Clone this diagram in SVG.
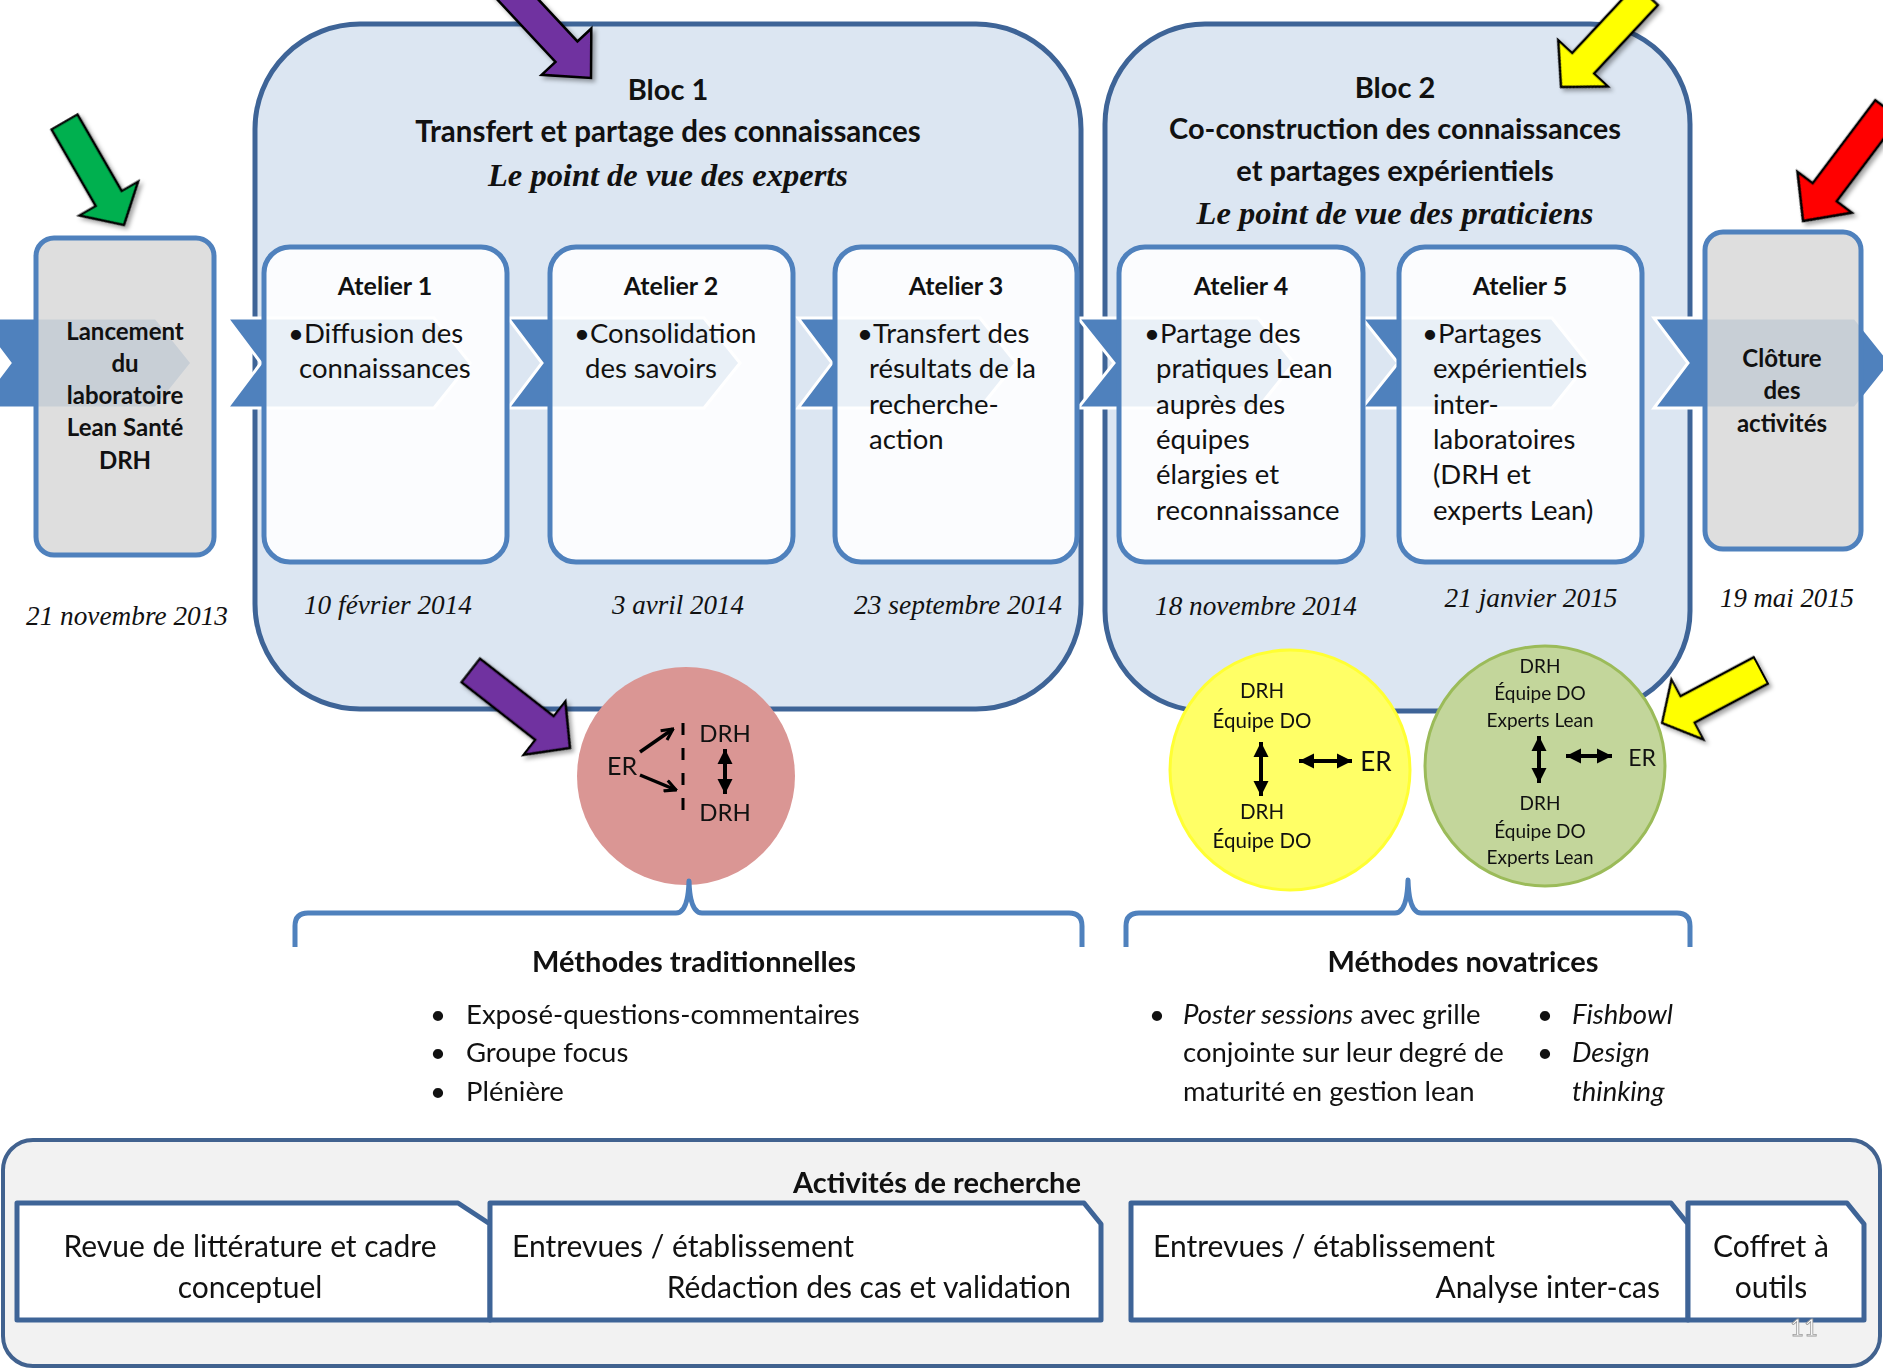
<svg xmlns="http://www.w3.org/2000/svg" width="1883" height="1368" viewBox="0 0 1883 1368">
<defs>
<style>
.s{font-family:Lato,'Open Sans','Liberation Sans',sans-serif;fill:#111}
.b{font-weight:bold}
.c{text-anchor:middle}
.r{text-anchor:end}
.serif{font-family:'Liberation Serif','Times New Roman',serif;font-style:italic;fill:#111}
.ttl{font-weight:bold}
.bloc{fill:#DCE6F2;stroke:#3E6497;stroke-width:5}
.chev{fill:#4F81BD;stroke:#fff;stroke-width:3}
.box{fill:#fff;fill-opacity:0.88;stroke:#4F81BD;stroke-width:5}
.gbox{fill:#D9D9D9;fill-opacity:0.88;stroke:#4F81BD;stroke-width:5}
.brace{fill:none;stroke:#4F81BD;stroke-width:5;stroke-linejoin:round}
.act{fill:#fff;stroke:#3E6497;stroke-width:5;stroke-linejoin:round}
.arr{stroke:#000;stroke-width:2.5;stroke-linejoin:miter}
.dbl{stroke:#000;stroke-width:4;fill:none;marker-start:url(#ah);marker-end:url(#ah)}
.one{stroke:#000;stroke-width:3.5;fill:none;marker-end:url(#av)}
</style>
<marker id="ah" viewBox="0 0 10 10" refX="10" refY="5" markerWidth="3.8" markerHeight="3.8" orient="auto-start-reverse">
<path d="M0,0 L10,5 L0,10 z" fill="#000"/>
</marker>
<marker id="av" viewBox="0 0 10 10" refX="9" refY="5" markerWidth="4" markerHeight="4" orient="auto">
<path d="M1,1 L9,5 L1,9" fill="none" stroke="#000" stroke-width="2.2"/>
</marker>
<filter id="sh" x="-20%" y="-20%" width="140%" height="140%">
<feDropShadow dx="3" dy="3" stdDeviation="2" flood-color="#000" flood-opacity="0.35"/>
</filter>
<polygon id="blk" points="0,0 -36,-34 -36,-15 -140,-15 -140,15 -36,15 -36,34"/>
</defs>

<rect width="1883" height="1368" fill="#fff"/>

<!-- Blocs -->
<g id="bloc1">
<rect class="bloc" x="255" y="24" width="826" height="685" rx="105" ry="105"/>
<text class="s b c" x="668" y="100" font-size="29">Bloc 1</text>
<text class="s b c" x="668" y="142" font-size="29.5">Transfert et partage des connaissances</text>
<text class="serif ttl c" x="668" y="186" font-size="32" textLength="360" lengthAdjust="spacingAndGlyphs">Le point de vue des experts</text>
</g>
<g id="bloc2">
<rect class="bloc" x="1105" y="24" width="585" height="687" rx="100" ry="100"/>
<text class="s b c" x="1395" y="98" font-size="29">Bloc 2</text>
<text class="s b c" x="1395" y="139" font-size="29">Co-construction des connaissances</text>
<text class="s b c" x="1395" y="181" font-size="29">et partages expérientiels</text>
<text class="serif ttl c" x="1395" y="224" font-size="32" textLength="397" lengthAdjust="spacingAndGlyphs">Le point de vue des praticiens</text>
</g>

<!-- Process band (connectors) -->
<g id="connectors">
<polygon class="chev" points="-24,318 156,318 192,363 156,408 -24,408 10,363"/>
<polygon class="chev" points="227,318 434,318 470,363 434,408 227,408 261,363"/>
<polygon class="chev" points="508,318 704,318 740,363 704,408 508,408 542,363"/>
<polygon class="chev" points="798,318 980,318 1016,363 980,408 798,408 832,363"/>
<polygon class="chev" points="1078,318 1258,318 1294,363 1258,408 1078,408 1114,363"/>
<polygon class="chev" points="1362,318 1552,318 1588,363 1552,408 1362,408 1398,363"/>
<polygon class="chev" points="1654,318 1855,318 1891,363 1855,408 1654,408 1688,363"/>
</g>

<!-- Lancement -->
<g id="lancement">
<rect class="gbox" x="36" y="238" width="178" height="317" rx="18"/>
<text class="s b c" font-size="24"><tspan x="125" y="340">Lancement</tspan><tspan x="125" y="372">du</tspan><tspan x="125" y="404">laboratoire</tspan><tspan x="125" y="436">Lean Santé</tspan><tspan x="125" y="469">DRH</tspan></text>
<text class="serif c" x="127" y="625" font-size="27" textLength="202" lengthAdjust="spacingAndGlyphs">21 novembre 2013</text>
</g>

<g id="atelier1">
<rect class="box" x="264" y="247" width="243" height="315" rx="26"/>
<text class="s b c" x="385" y="295" font-size="25">Atelier 1</text>
<text class="s" font-size="27.5"><tspan x="288" y="343">•Diffusion des</tspan><tspan x="299" y="378">connaissances</tspan></text>
<text class="serif c" x="388" y="614" font-size="27" textLength="168" lengthAdjust="spacingAndGlyphs">10 février 2014</text>
</g>
<g id="atelier2">
<rect class="box" x="550" y="247" width="243" height="315" rx="26"/>
<text class="s b c" x="671" y="295" font-size="25">Atelier 2</text>
<text class="s" font-size="27.5"><tspan x="574" y="343">•Consolidation</tspan><tspan x="585" y="378">des savoirs</tspan></text>
<text class="serif c" x="678" y="614" font-size="27" textLength="132" lengthAdjust="spacingAndGlyphs">3 avril 2014</text>
</g>
<g id="atelier3">
<rect class="box" x="835" y="247" width="242" height="315" rx="26"/>
<text class="s b c" x="956" y="295" font-size="25">Atelier 3</text>
<text class="s" font-size="27.5"><tspan x="857" y="343">•Transfert des</tspan><tspan x="869" y="378">résultats de la</tspan><tspan x="869" y="414">recherche-</tspan><tspan x="869" y="449">action</tspan></text>
<text class="serif c" x="958" y="614" font-size="27" textLength="208" lengthAdjust="spacingAndGlyphs">23 septembre 2014</text>
</g>
<g id="atelier4">
<rect class="box" x="1119" y="247" width="244" height="315" rx="26"/>
<text class="s b c" x="1241" y="295" font-size="25">Atelier 4</text>
<text class="s" font-size="27.5"><tspan x="1144" y="343">•Partage des</tspan><tspan x="1156" y="378">pratiques Lean</tspan><tspan x="1156" y="414">auprès des</tspan><tspan x="1156" y="449">équipes</tspan><tspan x="1156" y="484">élargies et</tspan><tspan x="1156" y="520">reconnaissance</tspan></text>
<text class="serif c" x="1256" y="615" font-size="27" textLength="202" lengthAdjust="spacingAndGlyphs">18 novembre 2014</text>
</g>
<g id="atelier5">
<rect class="box" x="1399" y="247" width="243" height="315" rx="26"/>
<text class="s b c" x="1520" y="295" font-size="25">Atelier 5</text>
<text class="s" font-size="27.5"><tspan x="1422" y="343">•Partages</tspan><tspan x="1433" y="378">expérientiels</tspan><tspan x="1433" y="414">inter-</tspan><tspan x="1433" y="449">laboratoires</tspan><tspan x="1433" y="484">(DRH et</tspan><tspan x="1433" y="520">experts Lean)</tspan></text>
<text class="serif c" x="1531" y="607" font-size="27" textLength="173" lengthAdjust="spacingAndGlyphs">21 janvier 2015</text>
</g>
<g id="cloture">
<rect class="gbox" x="1705" y="232" width="156" height="317" rx="18"/>
<text class="s b c" font-size="24"><tspan x="1782" y="367">Clôture</tspan><tspan x="1782" y="399">des</tspan><tspan x="1782" y="432">activités</tspan></text>
<text class="serif c" x="1787" y="607" font-size="27" textLength="134" lengthAdjust="spacingAndGlyphs">19 mai 2015</text>
</g>

<!-- Pointer arrows -->
<g id="pointers" filter="url(#sh)">
<use href="#blk" transform="translate(591,78) rotate(47)" fill="#7030A0" class="arr"/>
<use href="#blk" transform="translate(124,225) rotate(60) scale(0.85,1)" fill="#00B050" class="arr"/>
<use href="#blk" transform="translate(1561,87) rotate(133) scale(0.9,1)" fill="#FFFF00" class="arr"/>
<use href="#blk" transform="translate(1803,221) rotate(127)" fill="#FF0000" class="arr"/>
<use href="#blk" transform="translate(570,748) rotate(38) scale(0.9,1)" fill="#7030A0" class="arr"/>
<use href="#blk" transform="translate(1662,723) rotate(152) scale(0.8,1)" fill="#FFFF00" class="arr"/>
</g>

<!-- Circles -->
<g id="circle-traditionnel">
<circle cx="686" cy="776" r="109" fill="#DA9694"/>
<text class="s c" x="622" y="775" font-size="25">ER</text>
<text class="s c" x="725" y="742" font-size="24">DRH</text>
<text class="s c" x="725" y="821" font-size="24">DRH</text>
<line x1="683" y1="723" x2="683" y2="815" stroke="#000" stroke-width="3" stroke-dasharray="12 13"/>
<line class="one" x1="640" y1="752" x2="673" y2="729"/>
<line class="one" x1="640" y1="775" x2="676" y2="790"/>
<line class="dbl" x1="725" y1="749" x2="725" y2="794"/>
</g>
<g id="circle-novateur1">
<circle cx="1290" cy="770" r="120" fill="#FFFF66" stroke="#FFFF33" stroke-width="3"/>
<text class="s c" x="1262" y="698" font-size="20.5">DRH</text>
<text class="s c" x="1262" y="728" font-size="20.5">Équipe DO</text>
<text class="s c" x="1262" y="819" font-size="20.5">DRH</text>
<text class="s c" x="1262" y="848" font-size="20.5">Équipe DO</text>
<text class="s c" x="1376" y="771" font-size="26">ER</text>
<line class="dbl" x1="1261" y1="742" x2="1261" y2="796"/>
<line class="dbl" x1="1299" y1="761" x2="1352" y2="761"/>
</g>
<g id="circle-novateur2">
<circle cx="1545" cy="766" r="120" fill="#C3D69B" stroke="#9BBB59" stroke-width="3"/>
<text class="s c" x="1540" y="673" font-size="19">DRH</text>
<text class="s c" x="1540" y="700" font-size="19">Équipe DO</text>
<text class="s c" x="1540" y="727" font-size="19">Experts Lean</text>
<text class="s c" x="1540" y="810" font-size="19">DRH</text>
<text class="s c" x="1540" y="838" font-size="19">Équipe DO</text>
<text class="s c" x="1540" y="864" font-size="19">Experts Lean</text>
<text class="s c" x="1642" y="766" font-size="23">ER</text>
<line class="dbl" x1="1539" y1="736" x2="1539" y2="783"/>
<line class="dbl" x1="1566" y1="756" x2="1612" y2="756"/>
</g>

<!-- Braces -->
<g id="methodes-traditionnelles">
<path class="brace" d="M295,947 V926 Q295,913 308,913 H676 Q688,913 689,881 Q690,913 702,913 H1069 Q1082,913 1082,926 V947"/>
<text class="s b c" x="694" y="972" font-size="29">Méthodes traditionnelles</text>
<text class="s" font-size="27.5"><tspan x="430" y="1024">•</tspan><tspan x="466" y="1024">Exposé-questions-commentaires</tspan><tspan x="430" y="1062">•</tspan><tspan x="466" y="1062">Groupe focus</tspan><tspan x="430" y="1101">•</tspan><tspan x="466" y="1101">Plénière</tspan></text>
</g>
<g id="methodes-novatrices">
<path class="brace" d="M1126,947 V926 Q1126,913 1139,913 H1395 Q1407,913 1408,880 Q1409,913 1421,913 H1677 Q1690,913 1690,926 V947"/>
<text class="s b c" x="1463" y="972" font-size="29">Méthodes novatrices</text>
<text class="s" font-size="27.5"><tspan x="1149" y="1024">•</tspan><tspan x="1183" y="1024" font-style="italic">Poster sessions</tspan><tspan> avec grille</tspan><tspan x="1183" y="1062">conjointe sur leur degré de</tspan><tspan x="1183" y="1101">maturité en gestion lean</tspan></text>
<text class="s" font-size="27.5"><tspan x="1537" y="1024">•</tspan><tspan x="1572" y="1024" font-style="italic">Fishbowl</tspan><tspan x="1537" y="1062">•</tspan><tspan x="1572" y="1062" font-style="italic">Design</tspan><tspan x="1572" y="1101" font-style="italic">thinking</tspan></text>
</g>

<!-- Activités de recherche -->
<g id="activites">
<rect x="3" y="1140" width="1877" height="226" rx="30" fill="#F2F2F2" stroke="#41628F" stroke-width="4"/>
<text class="s b c" x="937" y="1193" font-size="29">Activités de recherche</text>
</g>
<g id="act-revue">
<polygon class="act" points="17,1203 458,1203 490,1224 490,1320 17,1320"/>
<text class="s c" font-size="30"><tspan x="250" y="1257">Revue de littérature et cadre</tspan><tspan x="250" y="1298">conceptuel</tspan></text>
</g>
<g id="act-entrevues1">
<polygon class="act" points="490,1203 1084,1203 1101,1224 1101,1320 490,1320"/>
<text class="s" x="512" y="1257" font-size="30">Entrevues / établissement</text>
<text class="s r" x="1071" y="1298" font-size="30">Rédaction des cas et validation</text>
</g>
<g id="act-entrevues2">
<polygon class="act" points="1131,1203 1671,1203 1688,1224 1688,1320 1131,1320"/>
<text class="s" x="1153" y="1257" font-size="30">Entrevues / établissement</text>
<text class="s r" x="1660" y="1298" font-size="30">Analyse inter-cas</text>
</g>
<g id="act-coffret">
<polygon class="act" points="1688,1203 1847,1203 1864,1224 1864,1320 1688,1320"/>
<text class="s c" font-size="30"><tspan x="1771" y="1257">Coffret à</tspan><tspan x="1771" y="1298">outils</tspan></text>
</g>
<text class="s c" x="1804" y="1336" font-size="24" style="fill:#fff;stroke:#9a9a9a;stroke-width:0.8">11</text>
</svg>
